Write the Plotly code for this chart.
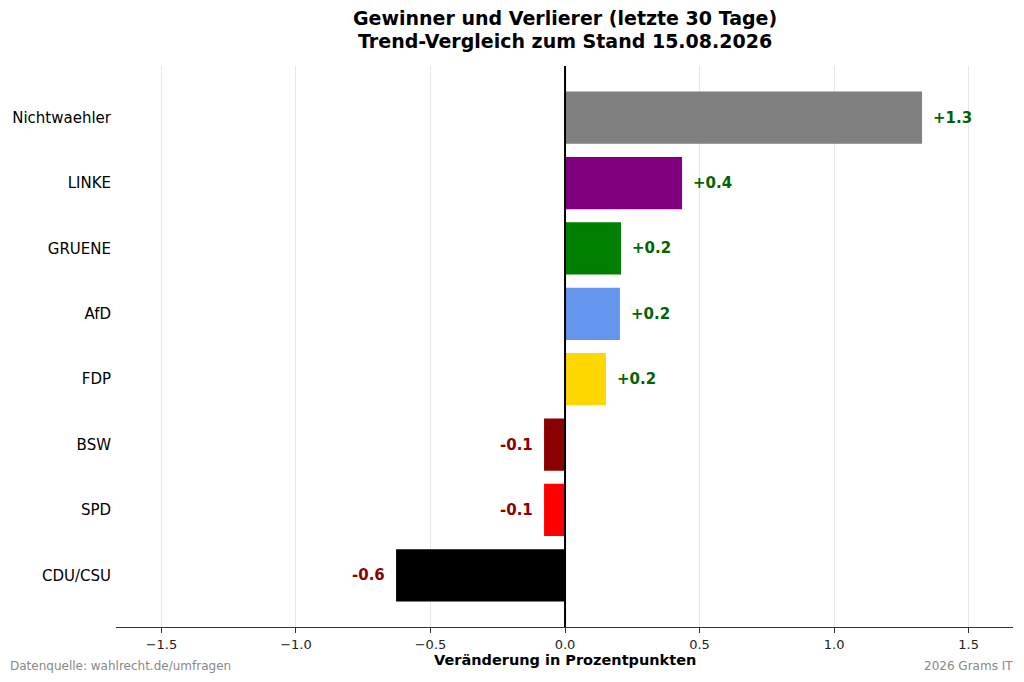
import plotly.graph_objects as go

# Veraenderung in Prozentpunkten, aufsteigend sortiert (unten -> oben)
parteien = ['CDU/CSU', 'SPD', 'BSW', 'FDP', 'AfD', 'GRUENE', 'LINKE', 'Nichtwaehler']
delta = [-0.628, -0.078, -0.078, 0.152, 0.204, 0.208, 0.435, 1.327]
farben = ['#000000', '#FF0000', '#8B0000', '#FFD700', '#6495ED', '#008000', '#800080', '#808080']
x_ticks = [-1.5, -1.0, -0.5, 0.0, 0.5, 1.0, 1.5]

titel = 'Gewinner und Verlierer (letzte 30 Tage)'
untertitel = 'Trend-Vergleich zum Stand 15.08.2026'

FONT = 'DejaVu Sans'

fig = go.Figure(go.Bar(
    x=delta,
    y=parteien,
    orientation='h',
    marker=dict(color=farben, line=dict(width=0)),
    width=0.8,
    hoverinfo='x+y',
))

# Wertbeschriftungen neben den Balken
for p, d in zip(parteien, delta):
    pos = d >= 0
    fig.add_annotation(
        x=d, y=p, xref='x', yref='y',
        text=f'<b>{d:+.1f}</b>',
        showarrow=False,
        xanchor='left' if pos else 'right',
        xshift=9 if pos else -9,
        font=dict(family=FONT, size=15, color='#006400' if pos else '#8B0000'),
    )

# Nulllinie ueber den Balken
fig.add_shape(type='line', xref='x', yref='paper', x0=0, x1=0, y0=0, y1=1,
              line=dict(color='black', width=2), layer='above')

# Titel (zwei Zeilen)
for txt, yy in [(titel, 1.0856), (untertitel, 1.0446)]:
    fig.add_annotation(text=f'<b>{txt}</b>', xref='paper', yref='paper',
                       x=0.5, y=yy, xanchor='center', yanchor='middle', showarrow=False,
                       font=dict(family=FONT, size=19, color='black'))

fig.add_annotation(text='<b>Veränderung in Prozentpunkten</b>', xref='paper', yref='paper',
                   x=0.5, y=-0.0588, xanchor='center', yanchor='middle', showarrow=False,
                   font=dict(family=FONT, size=14.5, color='black'))
fig.add_annotation(text='Datenquelle: wahlrecht.de/umfragen', xref='paper', yref='paper',
                   x=-0.1204, y=-0.0695, xanchor='left', yanchor='middle', showarrow=False,
                   font=dict(family=FONT, size=12, color='#888888'))
fig.add_annotation(text='2026 Grams IT', xref='paper', yref='paper',
                   x=1.0022, y=-0.0695, xanchor='right', yanchor='middle', showarrow=False,
                   font=dict(family=FONT, size=12, color='#888888'))

fig.update_layout(
    width=1016, height=674,
    margin=dict(l=108, r=11, t=58, b=55),
    paper_bgcolor='white', plot_bgcolor='white',
    font=dict(family=FONT, color='black'),
    showlegend=False,
    xaxis=dict(
        range=[-1.669, 1.665],
        tickvals=x_ticks, tickformat='.1f',
        showgrid=True, gridcolor='#E6E6E6', gridwidth=1,
        zeroline=False,
        showline=True, linecolor='#333333', linewidth=1.3,
        ticks='outside', ticklen=5, tickcolor='#333333',
        tickfont=dict(family=FONT, size=13, color='#222222'),
        automargin=False,
    ),
    yaxis=dict(
        range=[-0.79, 7.79],
        showgrid=False, zeroline=False, showline=False,
        ticks='', ticklabelstandoff=4,
        tickfont=dict(family=FONT, size=15, color='black'),
        automargin=False,
    ),
)

fig.write_html('out.html')
